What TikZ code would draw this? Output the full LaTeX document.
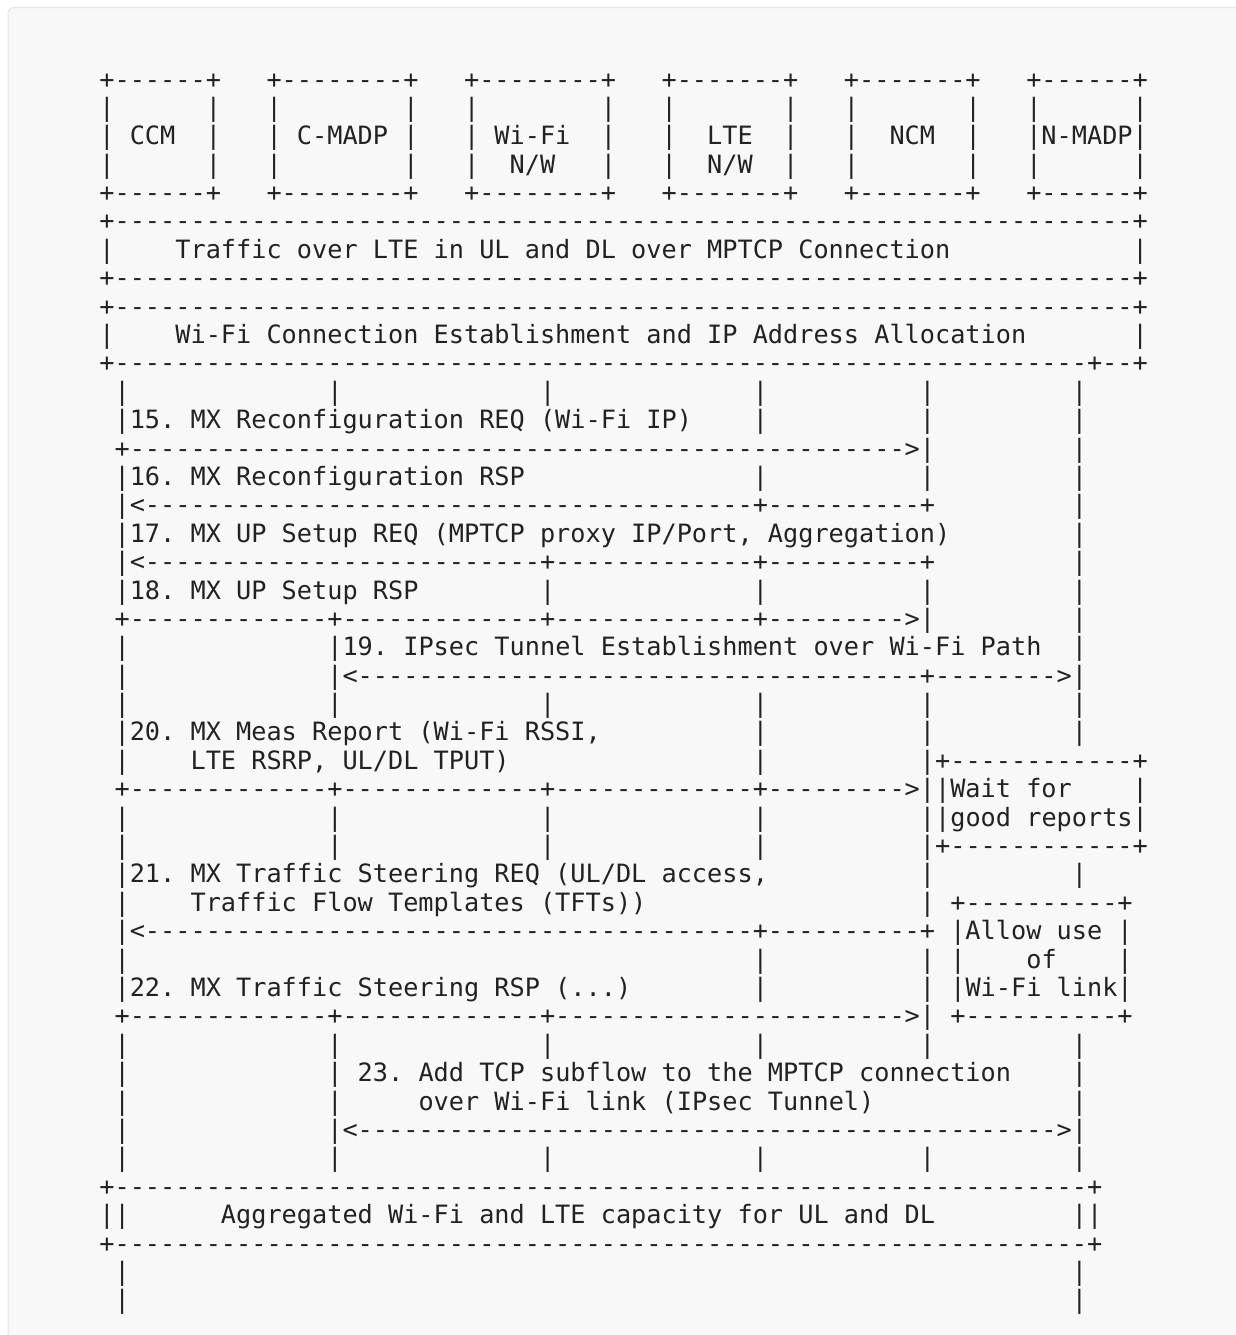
\documentclass[tikz,border=0pt]{standalone}
\usepackage{fontspec}
\setmonofont{DejaVu Sans Mono}

\definecolor{panel}{RGB}{248,248,248}
\definecolor{panelrule}{RGB}{229,229,229}
\definecolor{ink}{RGB}{34,34,34}

% blank columns and runs of dashes
\newcommand{\skipcols}[1]{\hskip#1\fontdimen2\font\relax}
\newcommand{\dashrun}[1]{\ifnum#1>0 -\expandafter\dashrun\expandafter{\the\numexpr#1-1\relax}\fi}

\begin{document}
\begin{tikzpicture}[
    x=0.5pt, y=-0.5pt,
    ascii/.style={anchor=base west, inner sep=0pt, outer sep=0pt, text=ink,
        font=\ttfamily\fontsize{12.62pt}{14pt}\selectfont\frenchspacing}
]

\useasboundingbox (0,0) rectangle (1236,1335);
\fill[white] (0,0) rectangle (1236,1335);
\draw[panelrule, fill=panel, line width=0.5pt, rounded corners=3pt] (8,7.5) rectangle (1280,1380);

\begin{scope}[shift={(99.4,88)}, x=7.6pt, y=-14.195pt]

% Entities
\node[ascii] (l1) at (0,0) {+\dashrun{6}+\skipcols{3}+\dashrun{8}+\skipcols{3}+\dashrun{8}+\skipcols{3}+\dashrun{7}+\skipcols{3}+\dashrun{7}+\skipcols{3}+\dashrun{6}+};
\node[ascii] (l2) at (0,1) {|\skipcols{6}|\skipcols{3}|\skipcols{8}|\skipcols{3}|\skipcols{8}|\skipcols{3}|\skipcols{7}|\skipcols{3}|\skipcols{7}|\skipcols{3}|\skipcols{6}|};
\node[ascii] (l3) at (0,2) {| CCM\skipcols{2}|\skipcols{3}| C-MADP |\skipcols{3}| Wi-Fi\skipcols{2}|\skipcols{3}|\skipcols{2}LTE\skipcols{2}|\skipcols{3}|\skipcols{2}NCM\skipcols{2}|\skipcols{3}|N-MADP|};
\node[ascii] (l4) at (0,3) {|\skipcols{6}|\skipcols{3}|\skipcols{8}|\skipcols{3}|\skipcols{2}N/W\skipcols{3}|\skipcols{3}|\skipcols{2}N/W\skipcols{2}|\skipcols{3}|\skipcols{7}|\skipcols{3}|\skipcols{6}|};
\node[ascii] (l5) at (0,4) {+\dashrun{6}+\skipcols{3}+\dashrun{8}+\skipcols{3}+\dashrun{8}+\skipcols{3}+\dashrun{7}+\skipcols{3}+\dashrun{7}+\skipcols{3}+\dashrun{6}+};

% Phases before the call flow
\node[ascii] (l6) at (0,5) {+\dashrun{67}+};
\node[ascii] (l7) at (0,6) {|\skipcols{4}Traffic over LTE in UL and DL over MPTCP Connection\skipcols{12}|};
\node[ascii] (l8) at (0,7) {+\dashrun{67}+};
\node[ascii] (l9) at (0,8) {+\dashrun{67}+};
\node[ascii] (l10) at (0,9) {|\skipcols{4}Wi-Fi Connection Establishment and IP Address Allocation\skipcols{7}|};
\node[ascii] (l11) at (0,10) {+\dashrun{64}+\dashrun{2}+};

% Messages 15 to 18
\node[ascii] (l12) at (0,11) {\skipcols{1}|\skipcols{13}|\skipcols{13}|\skipcols{13}|\skipcols{10}|\skipcols{9}|};
\node[ascii] (l13) at (0,12) {\skipcols{1}|15. MX Reconfiguration REQ (Wi-Fi IP)\skipcols{4}|\skipcols{10}|\skipcols{9}|};
\node[ascii] (l14) at (0,13) {\skipcols{1}+\dashrun{51}>|\skipcols{9}|};
\node[ascii] (l15) at (0,14) {\skipcols{1}|16. MX Reconfiguration RSP\skipcols{15}|\skipcols{10}|\skipcols{9}|};
\node[ascii] (l16) at (0,15) {\skipcols{1}|<\dashrun{40}+\dashrun{10}+\skipcols{9}|};
\node[ascii] (l17) at (0,16) {\skipcols{1}|17. MX UP Setup REQ (MPTCP proxy IP/Port, Aggregation)\skipcols{8}|};
\node[ascii] (l18) at (0,17) {\skipcols{1}|<\dashrun{26}+\dashrun{13}+\dashrun{10}+\skipcols{9}|};
\node[ascii] (l19) at (0,18) {\skipcols{1}|18. MX UP Setup RSP\skipcols{8}|\skipcols{13}|\skipcols{10}|\skipcols{9}|};
\node[ascii] (l20) at (0,19) {\skipcols{1}+\dashrun{13}+\dashrun{13}+\dashrun{13}+\dashrun{9}>|\skipcols{9}|};

% IPsec tunnel and reports
\node[ascii] (l21) at (0,20) {\skipcols{1}|\skipcols{13}|19. IPsec Tunnel Establishment over Wi-Fi Path\skipcols{2}|};
\node[ascii] (l22) at (0,21) {\skipcols{1}|\skipcols{13}|<\dashrun{37}+\dashrun{8}>|};
\node[ascii] (l23) at (0,22) {\skipcols{1}|\skipcols{13}|\skipcols{13}|\skipcols{13}|\skipcols{10}|\skipcols{9}|};
\node[ascii] (l24) at (0,23) {\skipcols{1}|20. MX Meas Report (Wi-Fi RSSI,\skipcols{10}|\skipcols{10}|\skipcols{9}|};
\node[ascii] (l25) at (0,24) {\skipcols{1}|\skipcols{4}LTE RSRP, UL/DL TPUT)\skipcols{16}|\skipcols{10}|+\dashrun{12}+};
\node[ascii] (l26) at (0,25) {\skipcols{1}+\dashrun{13}+\dashrun{13}+\dashrun{13}+\dashrun{9}>||Wait for\skipcols{4}|};
\node[ascii] (l27) at (0,26) {\skipcols{1}|\skipcols{13}|\skipcols{13}|\skipcols{13}|\skipcols{10}||good reports|};
\node[ascii] (l28) at (0,27) {\skipcols{1}|\skipcols{13}|\skipcols{13}|\skipcols{13}|\skipcols{10}|+\dashrun{12}+};

% Traffic steering
\node[ascii] (l29) at (0,28) {\skipcols{1}|21. MX Traffic Steering REQ (UL/DL access,\skipcols{10}|\skipcols{9}|};
\node[ascii] (l30) at (0,29) {\skipcols{1}|\skipcols{4}Traffic Flow Templates (TFTs))\skipcols{18}| +\dashrun{10}+};
\node[ascii] (l31) at (0,30) {\skipcols{1}|<\dashrun{40}+\dashrun{10}+ |Allow use |};
\node[ascii] (l32) at (0,31) {\skipcols{1}|\skipcols{41}|\skipcols{10}| |\skipcols{4}of\skipcols{4}|};
\node[ascii] (l33) at (0,32) {\skipcols{1}|22. MX Traffic Steering RSP (...)\skipcols{8}|\skipcols{10}| |Wi-Fi link|};
\node[ascii] (l34) at (0,33) {\skipcols{1}+\dashrun{13}+\dashrun{13}+\dashrun{23}>| +\dashrun{10}+};

% Subflow over Wi-Fi
\node[ascii] (l35) at (0,34) {\skipcols{1}|\skipcols{13}|\skipcols{13}|\skipcols{13}|\skipcols{10}|\skipcols{9}|};
\node[ascii] (l36) at (0,35) {\skipcols{1}|\skipcols{13}| 23. Add TCP subflow to the MPTCP connection\skipcols{4}|};
\node[ascii] (l37) at (0,36) {\skipcols{1}|\skipcols{13}|\skipcols{5}over Wi-Fi link (IPsec Tunnel)\skipcols{13}|};
\node[ascii] (l38) at (0,37) {\skipcols{1}|\skipcols{13}|<\dashrun{46}>|};
\node[ascii] (l39) at (0,38) {\skipcols{1}|\skipcols{13}|\skipcols{13}|\skipcols{13}|\skipcols{10}|\skipcols{9}|};

% Aggregation
\node[ascii] (l40) at (0,39) {+\dashrun{64}+};
\node[ascii] (l41) at (0,40) {||\skipcols{6}Aggregated Wi-Fi and LTE capacity for UL and DL\skipcols{9}||};
\node[ascii] (l42) at (0,41) {+\dashrun{64}+};
\node[ascii] (l43) at (0,42) {\skipcols{1}|\skipcols{62}|};
\node[ascii] (l44) at (0,43) {\skipcols{1}|\skipcols{62}|};

\end{scope}

\end{tikzpicture}
\end{document}
